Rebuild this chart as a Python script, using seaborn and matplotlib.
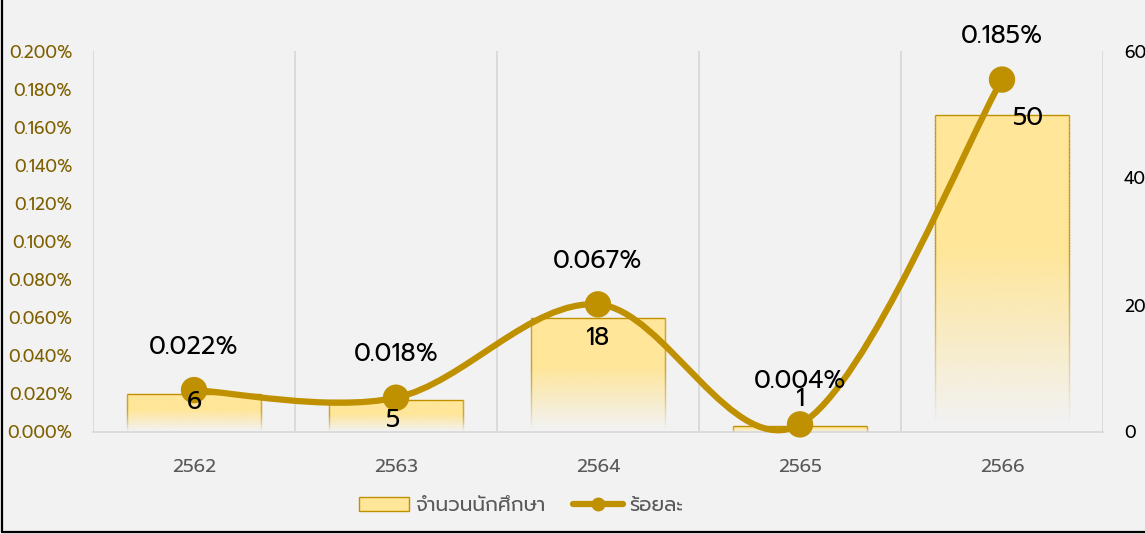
import matplotlib
matplotlib.use("Agg")
import matplotlib.pyplot as plt
import numpy as np
import seaborn as sns
from matplotlib import font_manager
from matplotlib.path import Path
from matplotlib.patches import PathPatch, Patch
from matplotlib.lines import Line2D
from matplotlib.collections import LineCollection
from matplotlib.colors import to_rgba

# ---- data ----
years = ["2562", "2563", "2564", "2565", "2566"]
students = [6, 5, 18, 1, 50]
percent = [0.022, 0.018, 0.067, 0.004, 0.185]
pct_labels = ["0.022%", "0.018%", "0.067%", "0.004%", "0.185%"]
left_ticks = [0.000, 0.020, 0.040, 0.060, 0.080, 0.100, 0.120, 0.140, 0.160, 0.180, 0.200]
right_ticks = [0, 20, 40, 60]
legend_labels = ["จำนวนนักศึกษา", "ร้อยละ"]

# label offsets (pixels) for bar value labels, relative to bar top
bar_lab_dx = [0, -3, 0, 0, 27]
bar_lab_dy = [-9, -20, -21, 26, -4]

BG = "#f2f2f2"
GOLD = "#bf9000"
YEL = "#ffe699"
GRID = "#d9d9d9"

sns.set_theme(style="white")
avail = {f.name for f in font_manager.fontManager.ttflist}
main_font = "DejaVu Sans"
for cand in ["Prompt", "Kanit", "Mitr", "Noto Sans Thai", "Sarabun", "IBM Plex Sans Thai"]:
    if cand in avail:
        main_font = cand
        break
plt.rcParams["font.family"] = [main_font, "DejaVu Sans"]

DPI = 100
fig = plt.figure(figsize=(11.45, 5.34), dpi=DPI, facecolor=BG)
W, H = 1145, 534
ax_bar = fig.add_axes([93 / W, 1 - 432 / H, (1103 - 93) / W, (432 - 51) / H])
ax_bar.set_facecolor(BG)

sns.barplot(x=years, y=students, ax=ax_bar, width=0.66, color=YEL, edgecolor="none", zorder=2)

# gradient fill + fading edges
n = 200
t = np.linspace(0, 1, n)  # 0 top -> 1 bottom
alpha = np.clip(1 - (t - 0.43) / (0.97 - 0.43), 0, 1)
ycol = np.array(to_rgba(YEL))
gcol = np.array(to_rgba(GOLD))
img = np.zeros((n, 1, 4))
img[:, 0, :3] = ycol[:3]
img[:, 0, 3] = alpha
for p in list(ax_bar.patches):
    x0, w, h = p.get_x(), p.get_width(), p.get_height()
    p.set_facecolor("none")
    im = ax_bar.imshow(img, extent=[x0, x0 + w, 0, h], origin="upper", aspect="auto",
                       interpolation="bilinear", zorder=2)
    im.set_clip_path(p)
    ax_bar.plot([x0, x0 + w], [h, h], color=GOLD, lw=1.0, zorder=3, solid_capstyle="butt")
    ys = h * (1 - t)
    segs = []
    cols = []
    for xe in (x0, x0 + w):
        for i in range(n - 1):
            segs.append([(xe, ys[i]), (xe, ys[i + 1])])
            c = gcol.copy()
            c[3] = alpha[i]
            cols.append(c)
    ax_bar.add_collection(LineCollection(segs, colors=cols, linewidths=1.0, zorder=3))
ax_bar.set_ylim(0, 60)
ax_bar.set_xlim(-0.5, 4.5)

for s in ["top", "left", "right"]:
    ax_bar.spines[s].set_visible(False)
ax_bar.spines["bottom"].set_color(GRID)
ax_bar.spines["bottom"].set_linewidth(1.3)
ax_bar.set_xticks(range(len(years)))
ax_bar.set_xticklabels(years)
ax_bar.set_xticks(np.arange(-0.5, len(years), 1.0), minor=True)
ax_bar.tick_params(axis="x", which="major", length=0, pad=19.5, labelsize=13.5, labelcolor="#595959")
ax_bar.tick_params(axis="x", which="minor", length=6, width=1.3, color=GRID, direction="out")
ax_bar.grid(True, axis="x", which="minor", color=GRID, lw=1.3, zorder=0)
ax_bar.set_axisbelow(True)
ax_bar.set_xlabel("")
ax_bar.set_ylabel("")

# line axis (left)
ax_line = ax_bar.twinx()
ax_line.yaxis.tick_left()
ax_line.yaxis.set_label_position("left")
ax_line.set_ylim(0, 0.200)
ax_line.set_yticks(left_ticks)
ax_line.set_yticklabels([f"{v:.3f}%" for v in left_ticks])
ax_line.tick_params(axis="y", length=0, pad=15, labelsize=12.5, labelcolor="#7f6000")
for s in ax_line.spines.values():
    s.set_visible(False)

# bar axis ticks on the right (after twinx, which resets them)
ax_bar.yaxis.tick_right()
ax_bar.set_yticks(right_ticks)
ax_bar.set_yticklabels([str(v) for v in right_ticks])
ax_bar.tick_params(axis="y", which="both", left=False, labelleft=False, right=False,
                   labelright=True, length=0, pad=15, labelsize=12.5, labelcolor="#000000")

# smooth (Excel-like bezier) line through the data
P = np.column_stack([np.arange(len(percent), dtype=float), np.array(percent, dtype=float)])
verts = [tuple(P[0])]
codes = [Path.MOVETO]
m = len(P)
for i in range(m - 1):
    pm = P[i - 1] if i > 0 else P[i]
    pp = P[i + 2] if i + 2 < m else P[i + 1]
    c1 = P[i] + (P[i + 1] - pm) / 6
    c2 = P[i + 1] - (pp - P[i]) / 6
    verts += [tuple(c1), tuple(c2), tuple(P[i + 1])]
    codes += [Path.CURVE4] * 3
curve = PathPatch(Path(verts, codes), facecolor="none", edgecolor=GOLD, lw=4.5,
                  capstyle="round", joinstyle="round", zorder=4, clip_on=False)
ax_line.add_patch(curve)
sns.scatterplot(x=P[:, 0], y=P[:, 1], ax=ax_line, s=19 ** 2, color=GOLD,
                edgecolor="none", zorder=5, clip_on=False, legend=False)
ax_line.set_xlim(-0.5, 4.5)
ax_line.set_ylim(0, 0.200)

for i, (v, lab) in enumerate(zip(percent, pct_labels)):
    ax_line.annotate(lab, (i, v), xytext=(0, 31), textcoords="offset points",
                     ha="center", va="center", fontsize=18, color="#000000",
                     zorder=6, annotation_clip=False)

# bar labels (placed on the top axis so they sit above the line markers)
for i, v in enumerate(students):
    ax_line.annotate(str(v), (i, v), xycoords=ax_bar.transData,
                     xytext=(bar_lab_dx[i] * 0.72, bar_lab_dy[i] * 0.72),
                     textcoords="offset points", ha="center", va="center",
                     fontsize=18, color="#000000", zorder=7, annotation_clip=False)

# legend
handles = [Patch(facecolor=YEL, edgecolor=GOLD, lw=1.0),
           Line2D([0], [0], color=GOLD, lw=4.5, marker="o", markersize=9)]
fig.legend(handles, legend_labels, loc="center", bbox_to_anchor=(521 / W, 1 - 506 / H),
           ncol=2, frameon=False, fontsize=14.5, labelcolor="#595959",
           handlelength=2.5, handleheight=0.7, handletextpad=0.3, columnspacing=1.35)

# border (left & bottom visible in reference)
fig.add_artist(Line2D([2 / W, 2 / W], [2 / H, 1], transform=fig.transFigure, color="black", lw=1.6))
fig.add_artist(Line2D([2 / W, 1], [2 / H, 2 / H], transform=fig.transFigure, color="black", lw=1.6))

fig.savefig("out.png", dpi=DPI, facecolor=BG)
